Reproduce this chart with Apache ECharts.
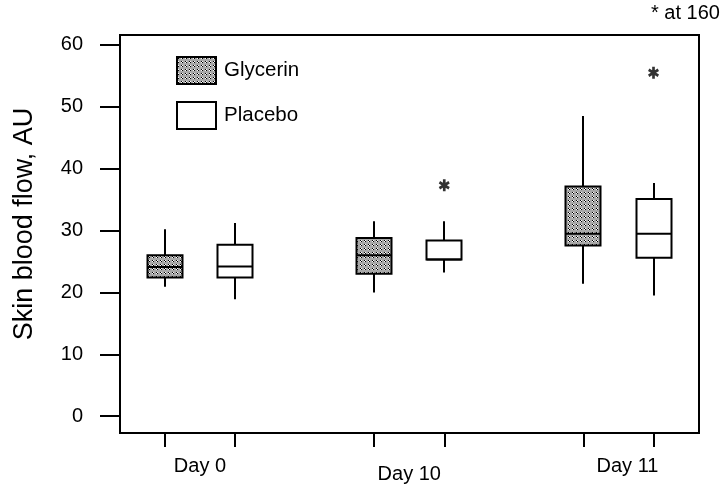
<!DOCTYPE html>
<html>
<head>
<meta charset="utf-8">
<script src="https://cdn.jsdelivr.net/npm/echarts@6/dist/echarts.min.js"></script>
<style>
  html, body { margin: 0; padding: 0; background: #fff; }
  #chart { width: 726px; height: 484px; }
</style>
</head>
<body>
<div id="chart"></div>
<script>
// values
const days = ['Day 0', 'Day 10', 'Day 11'];
// [min, Q1, median, Q3, max] per day
const glycerin = [
  [20.9, 22.4, 24.1, 26.0, 30.2],
  [20.0, 23.0, 26.0, 28.8, 31.5],
  [21.4, 27.6, 29.5, 37.1, 48.5]
];
const placebo = [
  [18.9, 22.4, 24.2, 27.7, 31.2],
  [23.2, 25.3, 25.3, 28.4, 31.5],
  [19.5, 25.6, 29.5, 35.1, 37.7]
];
// [day index, value]
const placeboOutliers = [[1, 37.3], [2, 55.5]];
const yTicks = [0, 10, 20, 30, 40, 50, 60];

// layout, in units of one day slot
const SHIFT = 0.1673;
const BOX_W = 0.1673;
const FONT = '"Liberation Sans", Arial, Helvetica, sans-serif';

// grey stippled fill like the scanned hatch
function makeStipple() {
  const c = document.createElement('canvas');
  c.width = 4;
  c.height = 4;
  const g = c.getContext('2d');
  g.fillStyle = '#a8a8a8';
  g.fillRect(0, 0, 4, 4);
  g.fillStyle = '#000';
  g.fillRect(0, 0, 1, 1);
  g.fillRect(1, 1, 1, 1);
  g.fillStyle = '#fff';
  g.fillRect(1, 0, 1, 1);
  g.fillRect(0, 1, 1, 1);
  return c;
}
const stipple = { image: makeStipple(), repeat: 'repeat' };

function rows(list) {
  return list.map((r, i) => [i].concat(r));
}

function boxRenderer(side, fill) {
  return function (params, api) {
    const x = api.value(0) + side * SHIFT;
    const w = api.size([BOX_W, 0])[0];
    const pMin = api.coord([x, api.value(1)]);
    const pQ1 = api.coord([x, api.value(2)]);
    const pMed = api.coord([x, api.value(3)]);
    const pQ3 = api.coord([x, api.value(4)]);
    const pMax = api.coord([x, api.value(5)]);
    const cx = Math.round(pMin[0]);
    const line = { stroke: '#000', lineWidth: 2 };
    return {
      type: 'group',
      children: [
        { type: 'line', shape: { x1: cx, y1: pQ3[1], x2: cx, y2: pMax[1] }, style: line },
        { type: 'line', shape: { x1: cx, y1: pQ1[1], x2: cx, y2: pMin[1] }, style: line },
        {
          type: 'rect',
          shape: { x: cx - w / 2, y: pQ3[1], width: w, height: pQ1[1] - pQ3[1] },
          style: { fill: fill, stroke: '#000', lineWidth: 2 }
        },
        { type: 'line', shape: { x1: cx - w / 2, y1: pMed[1], x2: cx + w / 2, y2: pMed[1] }, style: line }
      ]
    };
  };
}

const asterisk = 'path://M-1.2,-5L1.2,-5L1.2,5L-1.2,5Z' +
  'M-4.93,-1.46L-3.73,-3.54L4.93,1.46L3.73,3.54Z' +
  'M-3.73,3.54L-4.93,1.46L3.73,-3.54L4.93,-1.46Z';

const xTicks = [];
days.forEach((d, i) => { xTicks.push(i - SHIFT, i + SHIFT); });

const chart = echarts.init(document.getElementById('chart'));
chart.setOption({
  animation: false,
  backgroundColor: '#fff',
  textStyle: { fontFamily: FONT, color: '#000' },
  graphic: [{
    type: 'text',
    left: 651,
    top: 3,
    style: { text: '* at 160', font: '20px ' + FONT, fill: '#000' }
  }],
  legend: {
    orient: 'vertical',
    left: 176,
    top: 56,
    padding: 0,
    itemWidth: 39,
    itemHeight: 27,
    itemGap: 16,
    selectedMode: false,
    textStyle: { fontSize: 20.5, color: '#000', fontFamily: FONT, padding: [0, 0, 0, 3] },
    data: [
      { name: 'Glycerin', icon: 'rect', itemStyle: { color: stipple, borderColor: '#000', borderWidth: 2 } },
      { name: 'Placebo', icon: 'rect', itemStyle: { color: '#fff', borderColor: '#000', borderWidth: 2 } }
    ]
  },
  grid: {
    left: 120,
    right: 27,
    top: 35,
    bottom: 47,
    show: true,
    borderColor: '#000',
    borderWidth: 2
  },
  xAxis: {
    type: 'value',
    min: -0.3823,
    max: 2.3847,
    axisLine: { show: true, onZero: false, lineStyle: { color: '#000', width: 2 } },
    axisTick: { show: true, customValues: xTicks, length: 14, lineStyle: { color: '#000', width: 2 } },
    axisLabel: {
      customValues: [0, 1, 2],
      margin: 23,
      fontSize: 20,
      color: '#000',
      fontFamily: FONT,
      formatter: function (v) {
        const i = Math.round(v);
        if (i === 1) return '{low|' + days[i] + '}';
        if (i === 2) return '{right|' + days[i] + '}';
        return days[i];
      },
      rich: {
        low: { fontSize: 20, fontFamily: FONT, color: '#000', padding: [8, 0, 0, 0] },
        right: { fontSize: 20, fontFamily: FONT, color: '#000', padding: [0, 0, 0, 18] }
      }
    },
    splitLine: { show: false }
  },
  yAxis: {
    type: 'value',
    min: -2.72,
    max: 61.6,
    name: 'Skin blood flow, AU',
    nameLocation: 'middle',
    nameGap: 82,
    nameTextStyle: { fontSize: 27, color: '#000', fontFamily: FONT, padding: [0, 0, 0, 20] },
    axisLine: { show: true, onZero: false, lineStyle: { color: '#000', width: 2 } },
    axisTick: { show: true, customValues: yTicks, length: 20, lineStyle: { color: '#000', width: 2 } },
    axisLabel: { customValues: yTicks, margin: 37, fontSize: 20, color: '#000', fontFamily: FONT },
    splitLine: { show: false }
  },
  series: [
    {
      name: 'Glycerin',
      type: 'custom',
      itemStyle: { color: '#a8a8a8' },
      renderItem: boxRenderer(-1, stipple),
      encode: { x: 0, y: [1, 2, 3, 4, 5] },
      data: rows(glycerin)
    },
    {
      name: 'Placebo',
      type: 'custom',
      itemStyle: { color: '#fff' },
      renderItem: boxRenderer(1, '#fff'),
      encode: { x: 0, y: [1, 2, 3, 4, 5] },
      data: rows(placebo)
    },
    {
      name: 'Placebo outliers',
      type: 'scatter',
      symbol: asterisk,
      symbolSize: [11, 12],
      itemStyle: { color: '#000' },
      data: placeboOutliers.map(p => [p[0] + SHIFT, p[1]])
    }
  ]
});
</script>
</body>
</html>
